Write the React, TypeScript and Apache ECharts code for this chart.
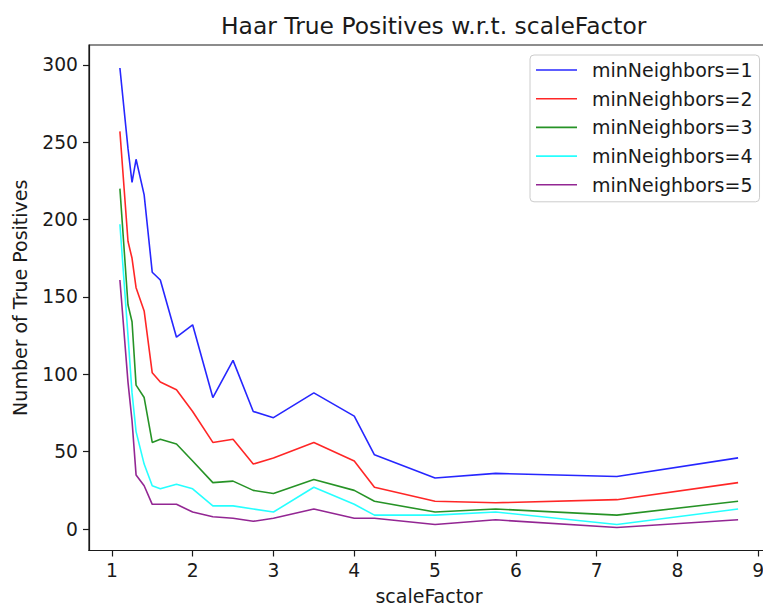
import React, { useEffect, useRef } from "react";
import * as echarts from "echarts";

const scaleFactors = [1.1, 1.2, 1.25, 1.3, 1.4, 1.5, 1.6, 1.8, 2.0, 2.25, 2.5, 2.75, 3.0, 3.5, 4.0, 4.25, 5.0, 5.75, 7.25, 8.75];
const mn1 = [298, 246, 224, 239, 216, 166, 161, 124, 132, 85, 109, 76, 72, 88, 73, 48, 33, 36, 34, 46];
const mn2 = [257, 186, 175, 156, 141, 101, 95, 90, 76, 56, 58, 42, 46, 56, 44, 27, 18, 17, 19, 30];
const mn3 = [220, 145, 134, 93, 85, 56, 58, 55, 44, 30, 31, 25, 23, 32, 25, 18, 11, 13, 9, 18];
const mn4 = [197, 125, 88, 63, 42, 28, 26, 29, 26, 15, 15, 13, 11, 27, 16, 9, 9, 11, 3, 13];
const mn5 = [161, 95, 70, 35, 28, 16, 16, 16, 11, 8, 7, 5, 7, 13, 7, 7, 3, 6, 1, 6];
const seriesNames = ["minNeighbors=1", "minNeighbors=2", "minNeighbors=3", "minNeighbors=4", "minNeighbors=5"];
const seriesValues = [mn1, mn2, mn3, mn4, mn5];
const seriesColors = ["#0000ff", "#ff0000", "#008000", "#00ffff", "#800080"];
const xTicks = [1, 2, 3, 4, 5, 6, 7, 8, 9];
const yTicks = [0, 50, 100, 150, 200, 250, 300];

const FONT = "DejaVu Sans";
const TXT = "#1a1a1a";

export default function App() {
  const ref = useRef<HTMLDivElement>(null);
  useEffect(() => {
    if (!ref.current) return;
    const chart = echarts.init(ref.current, null, { renderer: "svg" });
    const xMin = 1.1 - 0.05 * (8.75 - 1.1);
    const xMax = 8.75 + 0.05 * (8.75 - 1.1);
    const yMin = 1 - 0.05 * (298 - 1);
    const yMax = 298 + 0.05 * (298 - 1);
    chart.setOption({
      animation: false,
      backgroundColor: "#ffffff",
      textStyle: { fontFamily: FONT },
      title: {
        text: "Haar True Positives w.r.t. scaleFactor",
        left: 216,
        top: 9,
        textStyle: { fontFamily: FONT, fontSize: 23.4, fontWeight: "normal", color: TXT },
      },
      grid: {
        left: 89,
        top: 45,
        width: 680,
        height: 505.5,
        outerBoundsMode: "none",
        containLabel: false,
        show: true,
        borderColor: "#1a1a1a",
        borderWidth: 1.2,
        backgroundColor: "transparent",
      },
      legend: {
        orient: "vertical",
        left: 530,
        top: 55,
        padding: [5, 7, 7, 6],
        icon: "rect",
        itemWidth: 41,
        itemHeight: 1.6,
        itemGap: 8.7,
        borderColor: "#cccccc",
        borderWidth: 1,
        borderRadius: 4,
        backgroundColor: "rgba(255,255,255,0.8)",
        data: seriesNames,
        textStyle: { fontFamily: FONT, fontSize: 19, color: TXT, padding: [0, 0, 0, 10], lineHeight: 20 },
      },
      xAxis: {
        type: "value",
        min: xMin,
        max: xMax,
        name: "scaleFactor",
        nameLocation: "middle",
        nameGap: 37,
        nameTextStyle: { fontFamily: FONT, fontSize: 19, color: TXT, lineHeight: 17 },
        splitLine: { show: false },
        axisLine: { show: true, onZero: false, lineStyle: { color: "#1a1a1a", width: 1.2 } },
        axisTick: { show: true, length: 6, customValues: xTicks, lineStyle: { color: "#1a1a1a", width: 1.2 } },
        axisLabel: { customValues: xTicks, margin: 10, fontFamily: FONT, fontSize: 18.7, color: TXT },
      },
      yAxis: {
        type: "value",
        min: yMin,
        max: yMax,
        name: "Number of True Positives",
        nameLocation: "middle",
        nameGap: 60,
        nameTextStyle: { fontFamily: FONT, fontSize: 19, color: TXT },
        splitLine: { show: false },
        axisLine: { show: true, onZero: false, lineStyle: { color: "#1a1a1a", width: 1.2 } },
        axisTick: { show: true, length: 6, customValues: yTicks, lineStyle: { color: "#1a1a1a", width: 1.2 } },
        axisLabel: { customValues: yTicks, margin: 11, fontFamily: FONT, fontSize: 18.7, color: TXT },
      },
      series: seriesNames.map((name, i) => ({
        name,
        type: "line",
        symbol: "none",
        data: scaleFactors.map((x, j) => [x, seriesValues[i][j]]),
        itemStyle: { color: seriesColors[i], opacity: 0.85 },
        lineStyle: { color: seriesColors[i], width: 1.6, opacity: 0.85 },
      })),
    });
    return () => chart.dispose();
  }, []);
  return (
    <div
      ref={ref}
      style={{ position: "fixed", left: 0, top: 0, width: 763, height: 607, background: "#fff" }}
    />
  );
}
